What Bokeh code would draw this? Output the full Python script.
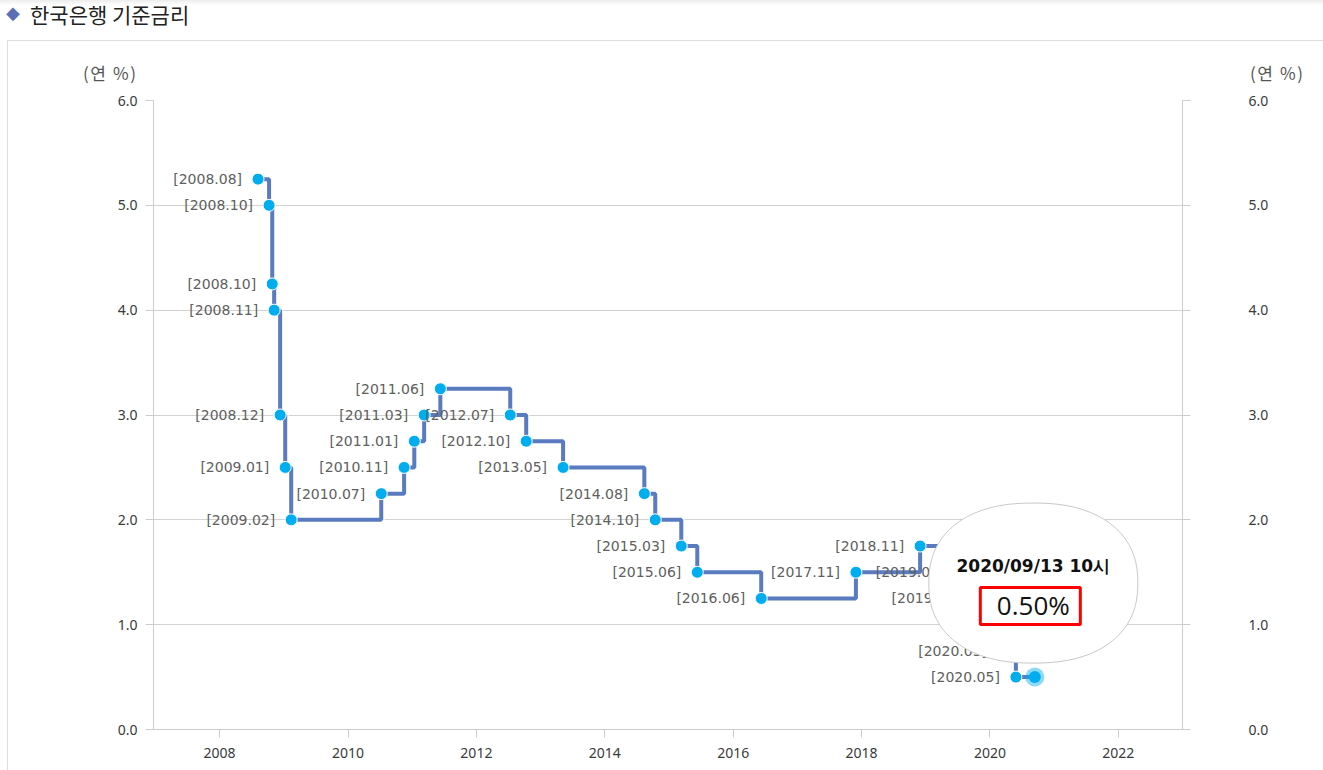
import numpy as np
import pandas as pd
from bokeh.plotting import figure
from bokeh.layouts import column
from bokeh.models import (ColumnDataSource, LinearAxis, LabelSet, FixedTicker, Div,
                          NumeralTickFormatter, Range1d)
from bokeh.core.properties import value
from bokeh.embed import file_html
from bokeh.resources import INLINE

# ---------------- data ----------------
change_dates = ["2008-08-07", "2008-10-09", "2008-10-27", "2008-11-07", "2008-12-11",
                "2009-01-09", "2009-02-12", "2010-07-09", "2010-11-16", "2011-01-13",
                "2011-03-10", "2011-06-10", "2012-07-12", "2012-10-11", "2013-05-09",
                "2014-08-14", "2014-10-15", "2015-03-12", "2015-06-11", "2016-06-09",
                "2017-11-30", "2018-11-30", "2019-07-18", "2019-10-16", "2020-03-16",
                "2020-05-28"]
rates = [5.25, 5.00, 4.25, 4.00, 3.00,
         2.50, 2.00, 2.25, 2.50, 2.75,
         3.00, 3.25, 3.00, 2.75, 2.50,
         2.25, 2.00, 1.75, 1.50, 1.25,
         1.50, 1.75, 1.50, 1.25, 0.75,
         0.50]
point_labels = ["[2008.08]", "[2008.10]", "[2008.10]", "[2008.11]", "[2008.12]",
                "[2009.01]", "[2009.02]", "[2010.07]", "[2010.11]", "[2011.01]",
                "[2011.03]", "[2011.06]", "[2012.07]", "[2012.10]", "[2013.05]",
                "[2014.08]", "[2014.10]", "[2015.03]", "[2015.06]", "[2016.06]",
                "[2017.11]", "[2018.11]", "[2019.07]", "[2019.10]", "[2020.03]",
                "[2020.05]"]
highlight_date = "2020-09-13"
highlight_rate = 0.50
highlight_time_text = "2020/09/13 10시"
highlight_value_text = "0.50%"
x_ticks = [2008, 2010, 2012, 2014, 2016, 2018, 2020, 2022]
y_ticks = [0, 1, 2, 3, 4, 5, 6]
title_text = "한국은행 기준금리"
unit_text = "(연 %)"


def frac_year(s):
    t = pd.Timestamp(s)
    n = 366 if t.is_leap_year else 365
    return t.year + (t.dayofyear - 1) / n


xs = [frac_year(d) for d in change_dates]
hx = frac_year(highlight_date)
line_x = xs + [hx]
line_y = rates + [highlight_rate]

# ---------------- layout geometry ----------------
W, H = 1323, 770
TOP = 90                                 # height of the html header strip
FL, FR, FT, FB = 153, 1182, 100, 729     # frame edges in window pixels
X0, X1 = 2006.97, 2023.0
Y0, Y1 = 0.0, 6.0


def dpx(d):
    return d / (FR - FL) * (X1 - X0)


def dpy(d):  # downward pixel offset -> data offset
    return -d / (FB - FT) * (Y1 - Y0)


# ---------------- header (title, units, panel border) ----------------
header_html = f"""
<div style="position:relative;width:{W}px;height:{TOP}px;overflow:hidden;
            font-family:'Noto Sans CJK KR','Noto Sans',sans-serif;">
  <div style="position:absolute;left:0;top:0;width:{W}px;height:5px;
              background:linear-gradient(#ececec,#ffffff);"></div>
  <div style="position:absolute;left:7px;top:40px;width:{W - 7 + 5}px;height:{TOP - 40 + 5}px;
              border-top:1px solid #dddddd;border-left:1px solid #dddddd;"></div>
  <span style="position:absolute;left:6px;top:2px;font-family:'DejaVu Sans';font-size:18px;
               line-height:22px;color:#5a6fb5;white-space:nowrap;">◆</span>
  <span style="position:absolute;left:30px;top:1px;font-size:21px;line-height:26px;
               color:#222222;white-space:nowrap;">{title_text}</span>
  <span style="position:absolute;left:83px;top:62px;font-size:17px;line-height:22px;
               letter-spacing:1.6px;color:#555555;white-space:nowrap;">{unit_text}</span>
  <span style="position:absolute;left:1250px;top:62px;font-size:17px;line-height:22px;
               letter-spacing:1.6px;color:#555555;white-space:nowrap;">{unit_text}</span>
</div>
"""
header = Div(text=header_html, width=W, height=TOP, margin=0)

# ---------------- figure ----------------
p = figure(width=W, height=H - TOP, x_range=Range1d(X0, X1), y_range=Range1d(Y0, Y1),
           output_backend="svg", toolbar_location=None, title=None,
           min_border_left=FL, min_border_right=W - FR,
           min_border_top=FT - TOP, min_border_bottom=H - FB, margin=0)
p.outline_line_color = None
p.background_fill_color = "white"
p.border_fill_color = None
p.styles = {"background-image":
            "linear-gradient(to right, #ffffff 7px, #dddddd 7px, #dddddd 8px, #ffffff 8px)"}

AX_COL = "#cccccc"
TICK_FONT = "Noto Sans"

xa = p.xaxis[0]
xa.ticker = FixedTicker(ticks=x_ticks)
xa.formatter = NumeralTickFormatter(format="0")
xa.axis_line_color = AX_COL
xa.major_tick_line_color = AX_COL
xa.major_tick_out = 8
xa.major_tick_in = 0
xa.minor_tick_line_color = None
xa.major_label_standoff = 10
xa.major_label_text_font = TICK_FONT
xa.major_label_text_font_size = "14px"
xa.major_label_text_color = "#3a3a3a"

ya = p.yaxis[0]
right_axis = LinearAxis()
p.add_layout(right_axis, "right")
for ax, standoff in ((ya, 8), (right_axis, 58)):
    ax.ticker = FixedTicker(ticks=y_ticks)
    ax.formatter = NumeralTickFormatter(format="0.0")
    ax.axis_line_color = AX_COL
    ax.major_tick_line_color = AX_COL
    ax.major_tick_out = 8
    ax.major_tick_in = 0
    ax.minor_tick_line_color = None
    ax.major_label_standoff = standoff
    ax.major_label_text_font = TICK_FONT
    ax.major_label_text_font_size = "14px"
    ax.major_label_text_color = "#3a3a3a"

p.xgrid.grid_line_color = None
p.ygrid.ticker = FixedTicker(ticks=y_ticks)
p.ygrid.grid_line_color = "#d2d2d2"
p.ygrid.grid_line_width = 1

# step line with light halo
p.step(x=line_x, y=line_y, mode="after", line_color="white", line_width=7, line_alpha=0.9)
p.step(x=line_x, y=line_y, mode="after", line_color="#5a7bbf", line_width=4)

src = ColumnDataSource(dict(x=xs, y=rates, label=point_labels))
p.scatter("x", "y", source=src, size=12, fill_color="#00aeef", line_color="white", line_width=1)

# hovered last point
p.scatter(x=[hx], y=[highlight_rate], size=19, fill_color="#00aeef", fill_alpha=0.45, line_color=None)
p.scatter(x=[hx], y=[highlight_rate], size=12, fill_color="#00aeef", line_color=None)

p.add_layout(LabelSet(x="x", y="y", text="label", source=src, x_offset=-16,
                      text_align="right", text_baseline="middle",
                      text_font=value("DejaVu Sans"), text_font_size="14px",
                      text_color="#606060"))

# tooltip bubble (rounded outline) anchored on the hovered point
tip_x = hx + dpx(-1.5)
tip_y = highlight_rate + dpy(-94)
theta = np.linspace(0, 2 * np.pi, 241)
expo = 2.0 / 2.3
bx = np.sign(np.cos(theta)) * np.abs(np.cos(theta)) ** expo * 104.5
by = np.sign(np.sin(theta)) * np.abs(np.sin(theta)) ** expo * 80.0
p.patch(x=tip_x + dpx(bx), y=tip_y + dpy(by), fill_color="white",
        line_color="#c8c8c8", line_width=1, level="overlay")
p.rect(x=[hx + dpx(-4.5)], y=[highlight_rate + dpy(-71)], width=100, height=37,
       width_units="screen", height_units="screen",
       fill_color=None, line_color="#ff0000", line_width=3, level="overlay")
p.text(x=[tip_x], y=[highlight_rate + dpy(-111.5)], text=[highlight_time_text],
       text_align="center", text_baseline="middle",
       text_font=value("DejaVu Sans"), text_font_size="17px", text_font_style="bold",
       text_color="#111111", level="overlay")
p.text(x=[tip_x], y=[highlight_rate + dpy(-72.5)], text=[highlight_value_text],
       text_align="center", text_baseline="middle",
       text_font=value("Open Sans"), text_font_size="26px",
       text_color="#111111", level="overlay")

layout = column(header, p, spacing=0, margin=0)
open("out.html", "w").write(file_html(layout, INLINE))
